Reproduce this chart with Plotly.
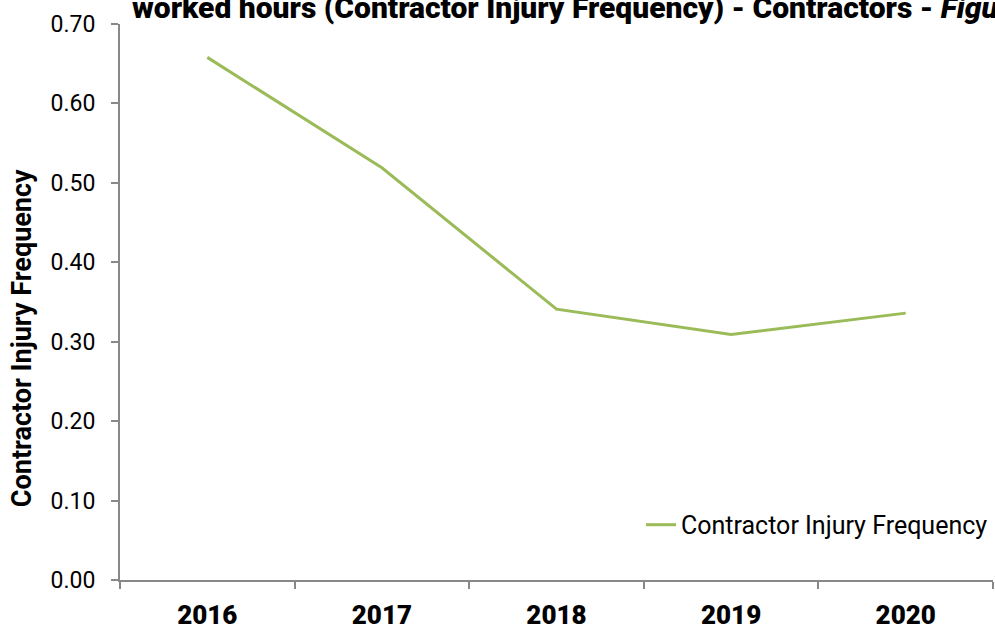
import plotly.graph_objects as go

years = ["2016", "2017", "2018", "2019", "2020"]
frequency = [0.658, 0.519, 0.341, 0.309, 0.336]
series_name = "Contractor Injury Frequency"
y_ticks = [0.0, 0.1, 0.2, 0.3, 0.4, 0.5, 0.6, 0.7]
title_text = "worked hours (Contractor Injury Frequency) - Contractors - <i>Figure</i>"
y_title = "Contractor Injury Frequency"

fig = go.Figure()
fig.add_trace(go.Scatter(
    x=years, y=frequency, mode="lines", name=series_name,
    line=dict(color="#9BBB59", width=3),
))

fig.update_layout(
    width=995, height=630,
    margin=dict(l=120, r=2, t=24, b=50, autoexpand=False),
    paper_bgcolor="white", plot_bgcolor="white",
    font=dict(family="Roboto", size=20, color="#000000"),
    showlegend=True,
    legend=dict(x=1.0, y=0.099, xanchor="right", yanchor="middle",
                bgcolor="rgba(0,0,0,0)", font=dict(size=25, family="Roboto")),
    annotations=[
        dict(text=title_text, xref="paper", yref="paper", x=0.0, y=1.0,
             xanchor="left", yanchor="middle", xshift=10, yshift=17, showarrow=False,
             font=dict(family="Roboto", size=30, color="#000", weight=900)),
        dict(text=y_title, xref="paper", yref="paper", x=0.0, y=0.435,
             xanchor="center", yanchor="middle", xshift=-98, textangle=-90,
             showarrow=False,
             font=dict(family="Roboto", size=27, color="#000", weight="bold")),
    ],
)

fig.update_xaxes(
    type="category", range=[-0.5, 4.5], automargin=False,
    showline=True, linecolor="#888888", linewidth=2,
    ticks="outside", tickson="boundaries", ticklen=7, tickcolor="#888888", tickwidth=2,
    tickfont=dict(family="Roboto", size=26, color="#000", weight=900),
    ticklabelstandoff=11,
    showgrid=False, zeroline=False,
)
fig.update_yaxes(
    range=[0, 0.7], tickvals=y_ticks, tickformat=".2f", automargin=False,
    showline=True, linecolor="#888888", linewidth=2,
    ticks="outside", ticklen=7, tickcolor="#888888", tickwidth=2,
    tickfont=dict(family="Roboto", size=23, color="#000"),
    ticklabelstandoff=11,
    showgrid=False, zeroline=False,
)

fig.write_html("out.html", config={"displayModeBar": False},
               post_script="document.body.style.margin='0';document.body.style.overflow='hidden';")
